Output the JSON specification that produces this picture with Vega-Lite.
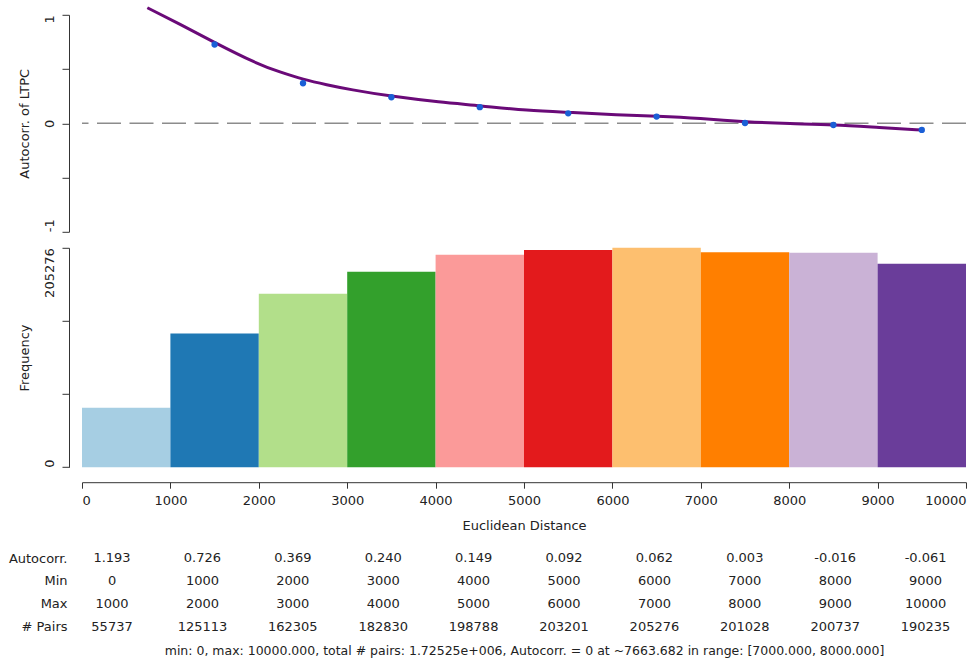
{
  "$schema": "https://vega.github.io/schema/vega-lite/v6.json",
  "background": "white",
  "padding": {"left": 8, "top": 0.8, "right": 0, "bottom": 0},
  "spacing": 14,
  "config": {
    "font": "DejaVu Sans",
    "view": {"stroke": null},
    "axis": {
      "grid": false,
      "domainColor": "#333333",
      "tickColor": "#333333",
      "labelColor": "#222222",
      "titleColor": "#222222",
      "labelFontSize": 13,
      "titleFontSize": 13,
      "titleFontWeight": "normal",
      "labelFont": "DejaVu Sans",
      "titleFont": "DejaVu Sans"
    }
  },
  "datasets": {
    "bins": [
      {"min": 0, "max": 1000, "mid": 500, "ac": 1.193, "pairs": 55737},
      {"min": 1000, "max": 2000, "mid": 1500, "ac": 0.726, "pairs": 125113},
      {"min": 2000, "max": 3000, "mid": 2500, "ac": 0.369, "pairs": 162305},
      {"min": 3000, "max": 4000, "mid": 3500, "ac": 0.240, "pairs": 182830},
      {"min": 4000, "max": 5000, "mid": 4500, "ac": 0.149, "pairs": 198788},
      {"min": 5000, "max": 6000, "mid": 5500, "ac": 0.092, "pairs": 203201},
      {"min": 6000, "max": 7000, "mid": 6500, "ac": 0.062, "pairs": 205276},
      {"min": 7000, "max": 8000, "mid": 7500, "ac": 0.003, "pairs": 201028},
      {"min": 8000, "max": 9000, "mid": 8500, "ac": -0.016, "pairs": 200737},
      {"min": 9000, "max": 10000, "mid": 9500, "ac": -0.061, "pairs": 190235}
    ],
    "curve": [
      {"d": 739, "v": 1.065},
      {"d": 1109, "v": 0.913},
      {"d": 1485, "v": 0.75},
      {"d": 1976, "v": 0.549},
      {"d": 2240, "v": 0.472},
      {"d": 2503, "v": 0.404},
      {"d": 2768, "v": 0.355},
      {"d": 3032, "v": 0.311},
      {"d": 3484, "v": 0.25},
      {"d": 4050, "v": 0.194},
      {"d": 4502, "v": 0.163},
      {"d": 5030, "v": 0.117},
      {"d": 5558, "v": 0.1},
      {"d": 6048, "v": 0.078},
      {"d": 6501, "v": 0.065},
      {"d": 6990, "v": 0.046},
      {"d": 7519, "v": 0.012},
      {"d": 8009, "v": -0.004},
      {"d": 8499, "v": -0.013},
      {"d": 9026, "v": -0.04},
      {"d": 9517, "v": -0.062}
    ],
    "table": [
      {"row": "Autocorr.", "col": 1, "t": "1.193"}, {"row": "Autocorr.", "col": 2, "t": "0.726"},
      {"row": "Autocorr.", "col": 3, "t": "0.369"}, {"row": "Autocorr.", "col": 4, "t": "0.240"},
      {"row": "Autocorr.", "col": 5, "t": "0.149"}, {"row": "Autocorr.", "col": 6, "t": "0.092"},
      {"row": "Autocorr.", "col": 7, "t": "0.062"}, {"row": "Autocorr.", "col": 8, "t": "0.003"},
      {"row": "Autocorr.", "col": 9, "t": "-0.016"}, {"row": "Autocorr.", "col": 10, "t": "-0.061"},
      {"row": "Min", "col": 1, "t": "0"}, {"row": "Min", "col": 2, "t": "1000"},
      {"row": "Min", "col": 3, "t": "2000"}, {"row": "Min", "col": 4, "t": "3000"},
      {"row": "Min", "col": 5, "t": "4000"}, {"row": "Min", "col": 6, "t": "5000"},
      {"row": "Min", "col": 7, "t": "6000"}, {"row": "Min", "col": 8, "t": "7000"},
      {"row": "Min", "col": 9, "t": "8000"}, {"row": "Min", "col": 10, "t": "9000"},
      {"row": "Max", "col": 1, "t": "1000"}, {"row": "Max", "col": 2, "t": "2000"},
      {"row": "Max", "col": 3, "t": "3000"}, {"row": "Max", "col": 4, "t": "4000"},
      {"row": "Max", "col": 5, "t": "5000"}, {"row": "Max", "col": 6, "t": "6000"},
      {"row": "Max", "col": 7, "t": "7000"}, {"row": "Max", "col": 8, "t": "8000"},
      {"row": "Max", "col": 9, "t": "9000"}, {"row": "Max", "col": 10, "t": "10000"},
      {"row": "# Pairs", "col": 1, "t": "55737"}, {"row": "# Pairs", "col": 2, "t": "125113"},
      {"row": "# Pairs", "col": 3, "t": "162305"}, {"row": "# Pairs", "col": 4, "t": "182830"},
      {"row": "# Pairs", "col": 5, "t": "198788"}, {"row": "# Pairs", "col": 6, "t": "203201"},
      {"row": "# Pairs", "col": 7, "t": "205276"}, {"row": "# Pairs", "col": 8, "t": "201028"},
      {"row": "# Pairs", "col": 9, "t": "200737"}, {"row": "# Pairs", "col": 10, "t": "190235"}
    ]
  },
  "vconcat": [
    {
      "width": 884,
      "height": 217,
      "encoding": {
        "x": {"type": "quantitative", "scale": {"domain": [0, 10000], "nice": false}, "axis": null},
        "y": {
          "type": "quantitative",
          "scale": {"domain": [-1, 1], "nice": false},
          "axis": {
            "title": "Autocorr. of LTPC",
            "values": [-1, -0.5, 0, 0.5, 1],
            "labelExpr": "datum.value == 1 ? '1' : datum.value == 0 ? '0' : datum.value == -1 ? '-1' : ''",
            "labelAngle": -90,
            "labelFlush": false,
            "labelAlign": {"condition": [{"test": "datum.value == 1", "value": "right"}, {"test": "datum.value == -1", "value": "left"}], "value": "center"},
            "offset": 13,
            "tickSize": 7,
            "labelPadding": 6,
            "titlePadding": 12
          }
        }
      },
      "layer": [
        {
          "data": {"values": [{"y": 0}]},
          "mark": {"type": "rule", "color": "#8c8c8c", "strokeWidth": 1.5, "strokeDash": [24, 8.5]},
          "encoding": {
            "y": {"field": "y", "type": "quantitative"}
          }
        },
        {
          "data": {"name": "curve"},
          "mark": {"type": "line", "color": "#6a0a78", "strokeWidth": 3, "interpolate": "basis"},
          "encoding": {
            "x": {"field": "d", "type": "quantitative"},
            "y": {"field": "v", "type": "quantitative"}
          }
        },
        {
          "data": {"name": "bins"},
          "mark": {"type": "point", "filled": true, "color": "#1a5fd6", "opacity": 1, "size": 40, "clip": true},
          "encoding": {
            "x": {"field": "mid", "type": "quantitative"},
            "y": {"field": "ac", "type": "quantitative"}
          }
        }
      ]
    },
    {
      "width": 884,
      "height": 219.4,
      "data": {"name": "bins"},
      "mark": {"type": "bar", "strokeWidth": 0},
      "encoding": {
        "x": {
          "field": "min", "type": "quantitative",
          "scale": {"domain": [0, 10000], "nice": false},
          "axis": {
            "title": "Euclidean Distance",
            "values": [0, 1000, 2000, 3000, 4000, 5000, 6000, 7000, 8000, 9000, 10000],
            "format": "d",
            "labelFlush": true,
            "offset": 15,
            "tickSize": 6,
            "labelPadding": 6,
            "titlePadding": 12
          }
        },
        "x2": {"field": "max"},
        "y": {
          "field": "pairs", "type": "quantitative",
          "scale": {"domain": [0, 205276], "nice": false},
          "axis": {
            "title": "Frequency",
            "values": [0, 68425.33, 136850.67, 205276],
            "labelExpr": "datum.value == 0 ? '0' : datum.value == 205276 ? '205276' : ''",
            "labelAngle": -90,
            "labelFlush": false,
            "labelAlign": {"condition": [{"test": "datum.value > 200000", "value": "right"}, {"test": "datum.value == 0", "value": "left"}], "value": "center"},
            "offset": 13,
            "tickSize": 7,
            "labelPadding": 6,
            "titlePadding": 12
          }
        },
        "y2": {"datum": 0},
        "color": {
          "field": "min", "type": "ordinal", "legend": null,
          "scale": {"range": ["#a6cee3", "#1f78b4", "#b2df8a", "#33a02c", "#fb9a99", "#e31a1c", "#fdbf6f", "#ff7f00", "#cab2d6", "#6a3d9a"]}
        }
      }
    },
    {
      "width": 884,
      "height": 91.2,
      "data": {"name": "table"},
      "mark": {"type": "text", "fontSize": 13, "color": "#222222", "align": "center", "baseline": "middle"},
      "encoding": {
        "x": {
          "field": "col", "type": "quantitative",
          "scale": {"domain": [0.668, 10.447], "nice": false, "zero": false},
          "axis": {
            "orient": "bottom",
            "domain": false, "ticks": false, "labels": false,
            "title": "min: 0, max: 10000.000, total # pairs: 1.72525e+006, Autocorr. = 0 at ~7663.682 in range: [7000.000, 8000.000]",
            "titleFontSize": 12.5,
            "titlePadding": 7
          }
        },
        "y": {
          "field": "row", "type": "nominal",
          "sort": ["Autocorr.", "Min", "Max", "# Pairs"],
          "scale": {"paddingInner": 0, "paddingOuter": 0},
          "axis": {"title": null, "domain": false, "ticks": false, "labelPadding": 15, "labelFontSize": 13}
        },
        "text": {"field": "t", "type": "nominal"}
      }
    }
  ]
}
